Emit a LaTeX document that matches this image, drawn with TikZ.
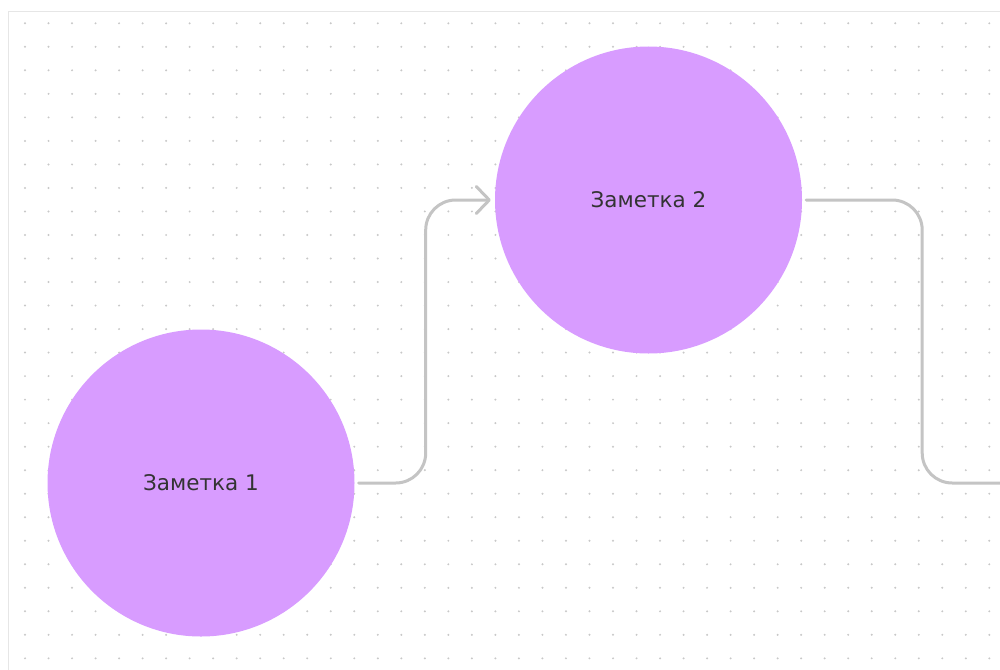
\documentclass[tikz,border=0pt]{standalone}
\usepackage{fontspec}
\setmainfont{DejaVu Sans}
\usetikzlibrary{arrows.meta}
\definecolor{notefill}{HTML}{D89CFF}
\definecolor{linegray}{HTML}{C4C4C4}
\definecolor{dotgray}{HTML}{C8C8C8}
\definecolor{framegray}{HTML}{E6E6E6}
\definecolor{textgray}{HTML}{333333}
\begin{document}
\begin{tikzpicture}[x=1pt,y=-1pt,
  note/.style={circle, fill=notefill, minimum size=307pt, inner sep=0pt, text=textgray, font=\fontsize{21.5}{26}\selectfont},
  link/.style={draw=linegray, line width=3pt, rounded corners=30pt, line cap=round},
  gdot/.style={fill=dotgray}]
\useasboundingbox (0,0) rectangle (1000,669);
\fill[white] (0,0) rectangle (1000,669);
\draw[framegray, line width=1pt] (8,12) rectangle (1030,700);
\foreach \i in {0,...,41} {\foreach \j in {0,...,27} {\fill[gdot] (25+23.52*\i, 23.3+23.52*\j) circle (1.1pt);}}
\node[note] (n1) at (201,483) {Заметка 1};
\node[note] (n2) at (648.5,200) {Заметка 2};
\coordinate (c2end) at (1030,483);
\draw[link, -{Straight Barb[length=13pt,width=27pt,round]}] ([xshift=4pt]n1.east) -- ++(67,0) |- ([xshift=-4pt]n2.west);
\draw[link] ([xshift=4pt]n2.east) -- ++(116,0) |- (c2end);
\end{tikzpicture}
\end{document}
